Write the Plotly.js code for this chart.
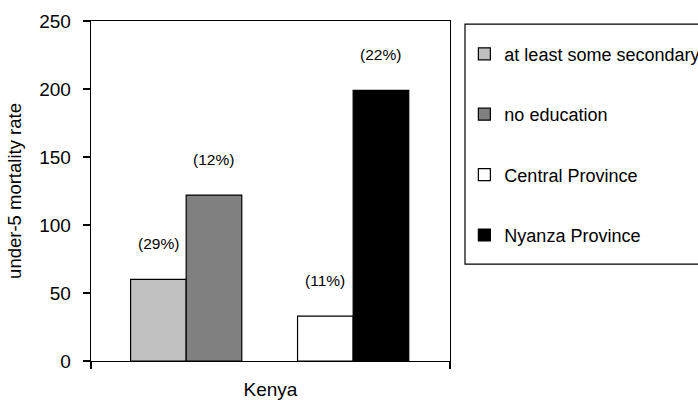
<!DOCTYPE html>
<html>
<head>
<meta charset="utf-8">
<script src="https://cdn.plot.ly/plotly-3.0.1.min.js"></script>
<style>html,body{margin:0;padding:0;background:#fff;}#chart{width:698px;height:400px;}</style>
</head>
<body>
<div id="chart"></div>
<script>
// ---- data ----
const seriesNames = ["at least some secondary", "no education", "Central Province", "Nyanza Province"];
const seriesValues = [60, 122, 33, 199];
const seriesLabels = ["(29%)", "(12%)", "(11%)", "(22%)"];
const seriesGroup = [0, 0, 1, 1];          // pair position: education pair, province pair
const seriesSide = [-1, 0, -1, 0];         // left or right bar of the pair
const seriesColors = ["#C0C0C0", "#808080", "#FFFFFF", "#000000"];
const categoryLabel = "Kenya";
const yTitle = "under-5 mortality rate";

// ---- layout constants ----
const barW = 0.333;
const xRange = [-0.57, 1.58];
const FONT = "Liberation Sans, Arial, Helvetica, sans-serif";

const traces = seriesNames.map((name, i) => ({
  type: "bar",
  name: name,
  x: [seriesGroup[i]],
  y: [seriesValues[i]],
  width: [barW],
  offset: [seriesSide[i] * barW],
  marker: { color: seriesColors[i], line: { color: "#000", width: 1.2 } },
  legendgroup: "g" + i,
  hoverinfo: "name+y"
}));

const annotations = seriesLabels.map((t, i) => ({
  x: seriesGroup[i] + seriesSide[i] * barW + barW / 2,
  y: seriesValues[i],
  xref: "x", yref: "y",
  text: t,
  showarrow: false,
  yshift: 36,
  font: { family: FONT, size: 15.5, color: "#000" }
}));

const layout = {
  width: 698, height: 400,
  margin: { l: 91, r: 248, t: 21, b: 39, autoexpand: false },
  paper_bgcolor: "#fff", plot_bgcolor: "#fff",
  font: { family: FONT, color: "#000" },
  barmode: "overlay",
  showlegend: true,
  xaxis: {
    range: xRange,
    tickmode: "array",
    tickvals: xRange,
    showticklabels: false,
    ticks: "outside", ticklen: 7, tickwidth: 1.3, tickcolor: "#000",
    showline: true, linecolor: "#000", linewidth: 1.3, mirror: true,
    showgrid: false, zeroline: false, fixedrange: true,
    title: { text: categoryLabel, font: { family: FONT, size: 19, color: "#000" }, standoff: 14 }
  },
  yaxis: {
    range: [0, 250], dtick: 50, tick0: 0,
    ticks: "outside", ticklen: 7, tickwidth: 1.3, tickcolor: "#000",
    ticklabelstandoff: 8,
    tickfont: { family: FONT, size: 19, color: "#000" },
    showline: true, linecolor: "#000", linewidth: 1.3, mirror: true,
    showgrid: false, zeroline: false, fixedrange: true,
    title: { text: yTitle, font: { family: FONT, size: 18.5, color: "#000" }, standoff: 12 }
  },
  legend: {
    x: 1.04, y: 0.957, xanchor: "left", yanchor: "top",
    bgcolor: "rgba(0,0,0,0)", borderwidth: 0,
    font: { family: FONT, size: 18, color: "#000" },
    tracegroupgap: 34,
    traceorder: "grouped"
  },
  shapes: [{
    type: "rect", xref: "paper", yref: "paper",
    x0: 1.0418, x1: 1.9, y0: 0.285, y1: 0.991,
    line: { color: "#000", width: 1.2 }, fillcolor: "rgba(0,0,0,0)", layer: "below"
  }],
  annotations: annotations
};

Plotly.newPlot("chart", traces, layout, { staticPlot: true, displayModeBar: false });
</script>
</body>
</html>
